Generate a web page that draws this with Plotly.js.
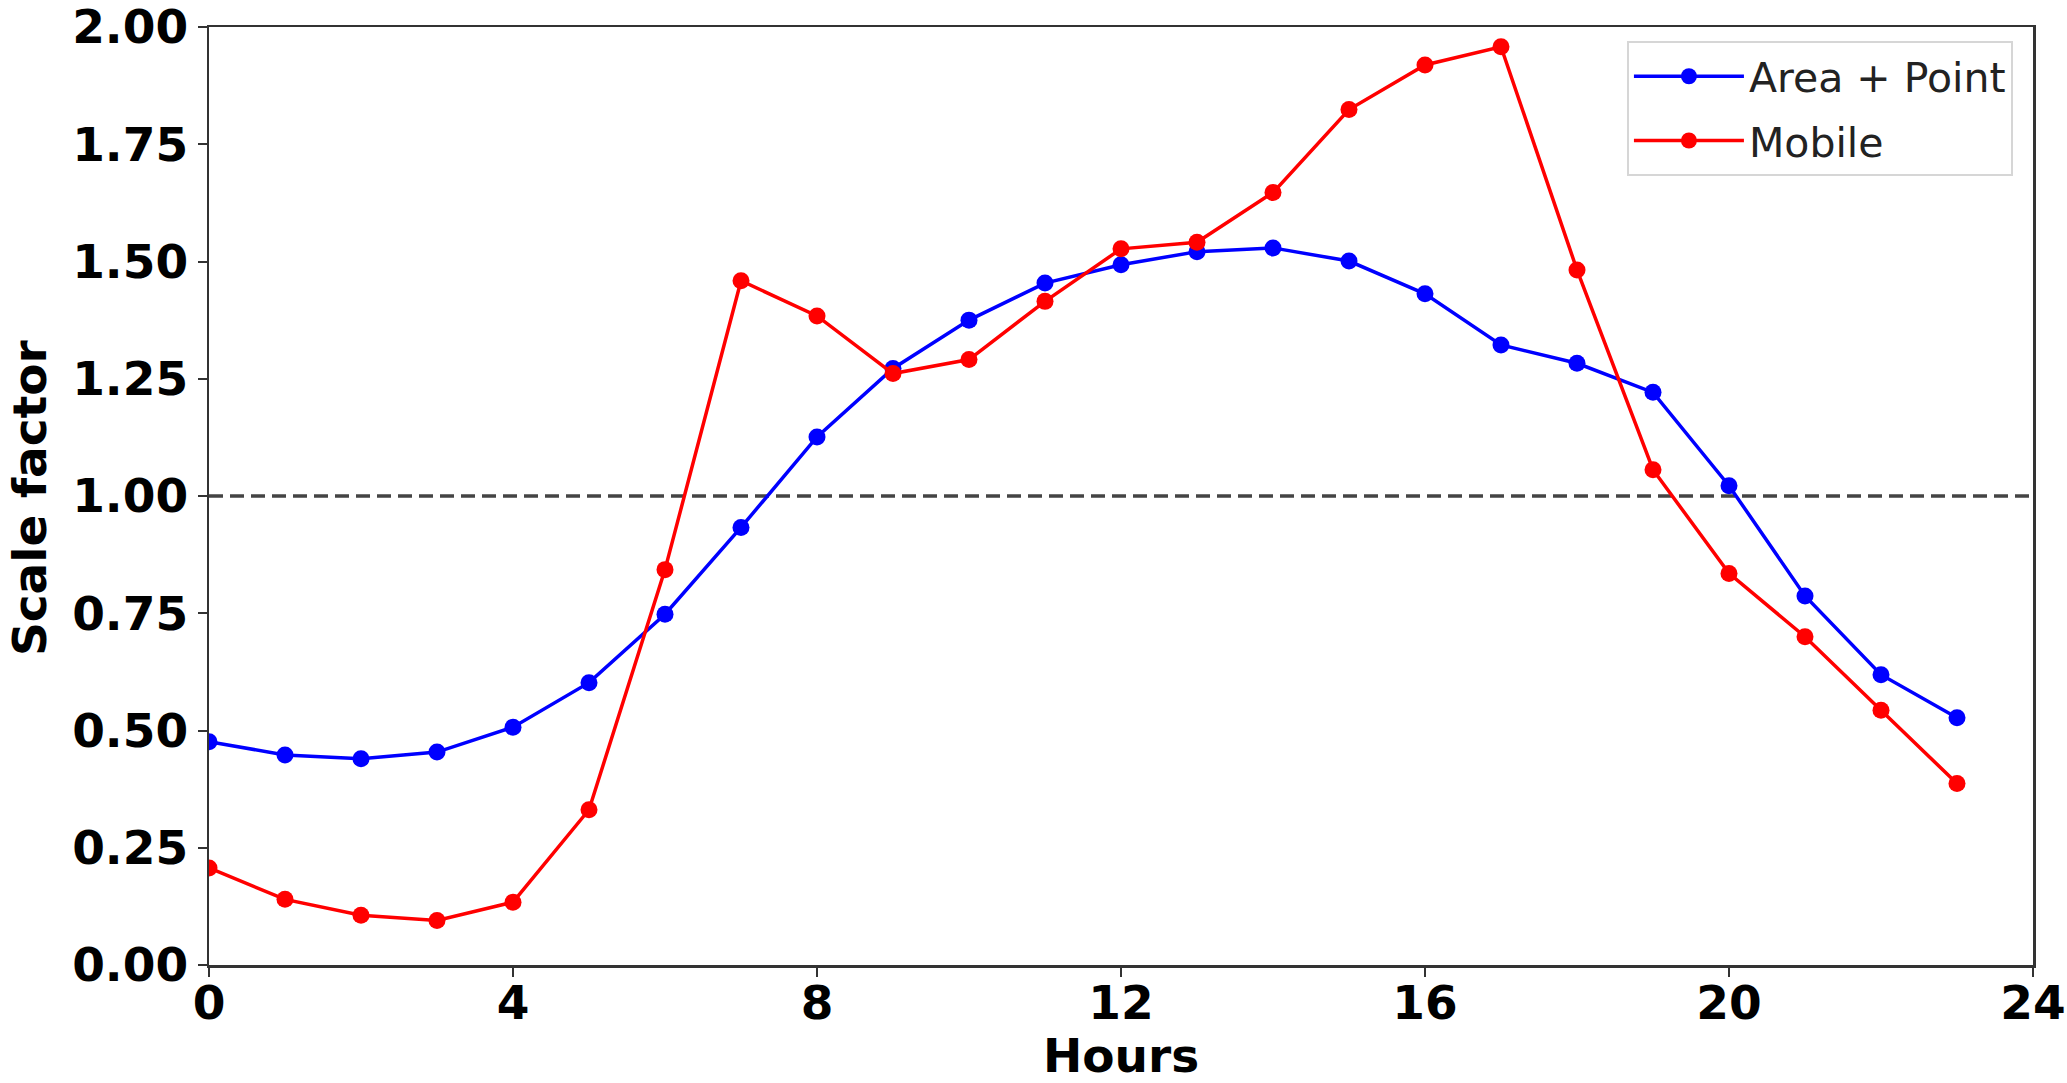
<!DOCTYPE html>
<html>
<head>
<meta charset="utf-8">
<script src="https://cdn.plot.ly/plotly-3.0.1.min.js"></script>
<style>html,body{margin:0;padding:0;background:#fff;}#chart{width:2067px;height:1083px;}</style>
</head>
<body>
<div id="chart"></div>
<script>
const hours = [0,1,2,3,4,5,6,7,8,9,10,11,12,13,14,15,16,17,18,19,20,21,22,23];
const areaPoint = [0.476,0.448,0.440,0.454,0.507,0.602,0.748,0.933,1.126,1.272,1.375,1.454,1.493,1.521,1.529,1.501,1.431,1.322,1.283,1.221,1.022,0.787,0.619,0.527];
const mobile = [0.207,0.140,0.106,0.095,0.134,0.331,0.843,1.459,1.384,1.261,1.291,1.415,1.527,1.541,1.647,1.824,1.919,1.958,1.482,1.056,0.835,0.700,0.543,0.387];
const seriesNames = ["Area + Point","Mobile"];
const xTicks = [0,4,8,12,16,20,24];
const yTicks = [0,0.25,0.5,0.75,1,1.25,1.5,1.75,2];
const refLevel = 1.0;
const xTitle = 'Hours';
const yTitle = 'Scale factor';

const FONT = "DejaVu Sans, sans-serif";
const traces = [
  {x: hours, y: areaPoint, name: seriesNames[0], legendgroup: 'a', type: 'scatter', mode: 'lines+markers',
   line: {color: '#0000ff', width: 3.5}, marker: {color: '#0000ff', size: 17}},
  {x: hours, y: mobile, name: seriesNames[1], legendgroup: 'b', type: 'scatter', mode: 'lines+markers',
   line: {color: '#ff0000', width: 3.5}, marker: {color: '#ff0000', size: 17}}
];
const tickFont = {family: FONT, size: 47, weight: 'bold', color: '#000'};
const titleFont = {family: FONT, size: 47, weight: 'bold', color: '#000'};
const layout = {
  width: 2067, height: 1083,
  margin: {l: 209, r: 34, t: 27, b: 118},
  paper_bgcolor: '#ffffff', plot_bgcolor: '#ffffff',
  font: {family: FONT, color: '#000'},
  showlegend: true,
  legend: {x: 0.989, y: 0.985, xanchor: 'right', yanchor: 'top', traceorder: 'grouped',
           bgcolor: 'rgba(255,255,255,0.8)', bordercolor: '#d6d6d6', borderwidth: 2,
           font: {family: FONT, size: 41, color: '#222'}, itemwidth: 110, tracegroupgap: 8},
  xaxis: {range: [0, 24], tickvals: xTicks, ticktext: xTicks.map(String),
          showgrid: false, zeroline: false, showline: true, mirror: true,
          linecolor: '#333', linewidth: 2.5, ticks: 'outside', ticklen: 9, tickwidth: 2, tickcolor: '#333',
          tickfont: tickFont, ticklabelstandoff: -14, ticklabeloverflow: 'allow'},
  yaxis: {range: [0, 2], tickvals: yTicks, ticktext: yTicks.map(v => v.toFixed(2)),
          showgrid: false, zeroline: false, showline: true, mirror: true,
          linecolor: '#333', linewidth: 2.5, ticks: 'outside', ticklen: 9, tickwidth: 2, tickcolor: '#333',
          tickfont: tickFont, ticklabeloverflow: 'allow'},
  annotations: [
    {text: xTitle, xref: 'paper', yref: 'paper', x: 0.5, y: -0.097, xanchor: 'center', yanchor: 'middle',
     showarrow: false, font: titleFont},
    {text: yTitle, xref: 'paper', yref: 'paper', x: -0.098, y: 0.498, xanchor: 'center', yanchor: 'middle',
     textangle: -90, showarrow: false, font: titleFont}
  ],
  shapes: [{type: 'line', xref: 'x', yref: 'y', x0: 0, x1: 24, y0: refLevel, y1: refLevel,
            line: {color: '#444', width: 3.5, dash: '14px,7px'}, layer: 'below'}]
};
Plotly.newPlot('chart', traces, layout, {displayModeBar: false, staticPlot: true});
</script>
</body>
</html>
